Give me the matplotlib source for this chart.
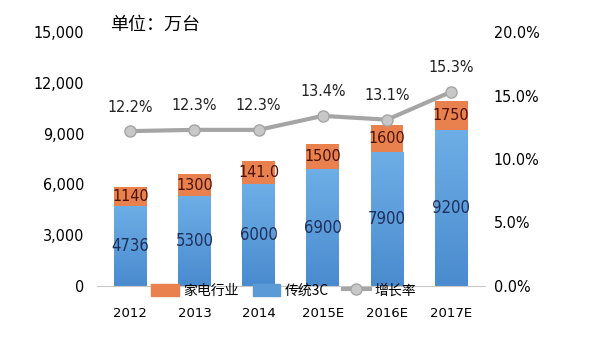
import numpy as np
import matplotlib.pyplot as plt
from matplotlib.lines import Line2D
from matplotlib.patches import Patch
from matplotlib.colors import LinearSegmentedColormap

plt.rcParams['font.family'] = ['DejaVu Sans', 'Noto Sans CJK SC']
plt.rcParams['font.stretch'] = 'condensed'

years = ['2012', '2013', '2014', '2015E', '2016E', '2017E']
trad_3c = [4736, 5300, 6000, 6900, 7900, 9200]
appliance = [1140, 1300, 1410, 1500, 1600, 1750]
growth = [12.2, 12.3, 12.3, 13.4, 13.1, 15.3]
appliance_labels = ['1140', '1300', '141.0', '1500', '1600', '1750']

blue = '#5b9bd5'
orange = '#e8814d'
grey = '#a5a5a5'
cjk = ['Noto Sans CJK SC', 'DejaVu Sans']
blue_grad = LinearSegmentedColormap.from_list('bg', ['#4a8bcf', '#6eaee6'])

fig = plt.figure(figsize=(5.91, 3.42), dpi=100)
ax = fig.add_axes([0.164, 0.164, 0.657, 0.742])
x = np.arange(len(years))
w = 0.51

bars = ax.bar(x, trad_3c, w, color=blue, zorder=2)
ax.bar(x, appliance, w, bottom=trad_3c, color=orange, zorder=2)
# vertical gradient on the blue bars
grad = np.linspace(0, 1, 100).reshape(-1, 1)
for b in bars:
    bx, by = b.get_x(), b.get_y()
    im = ax.imshow(grad, cmap=blue_grad, origin='lower', aspect='auto', zorder=2.1,
                   extent=[bx, bx + b.get_width(), by, by + b.get_height()])
    im.set_clip_path(b)

for i in range(len(years)):
    ax.text(x[i], trad_3c[i] / 2, str(trad_3c[i]), ha='center', va='center',
            fontsize=12, color='#1f2f5a', zorder=3)
    ax.text(x[i], trad_3c[i] + appliance[i] / 2, appliance_labels[i], ha='center',
            va='center', fontsize=11.5, color='#4a1208', zorder=3)

ax.set_xlim(-0.52, 5.53)
ax.set_ylim(0, 15000)
ax.set_yticks([0, 3000, 6000, 9000, 12000, 15000])
ax.set_yticklabels(['0', '3,000', '6,000', '9,000', '12,000', '15,000'])
ax.set_xticks(x)
ax.set_xticklabels(years, fontstretch='normal')
ax.tick_params(axis='x', length=0, pad=15, labelsize=9.5)
ax.tick_params(axis='y', length=0, pad=9, labelsize=11.5)
for s in ['top', 'right', 'left']:
    ax.spines[s].set_visible(False)
ax.spines['bottom'].set_color('#c8c8c8')

ax2 = ax.twinx()
ax2.plot(x, growth, color=grey, lw=3, marker='o', ms=8, mfc='#c8c8c8', mec=grey, zorder=4)
for i in range(len(years)):
    ax2.text(x[i], growth[i] + 1.3, f'{growth[i]:.1f}%', ha='center', va='bottom',
             fontsize=11.5, color='#222222')
ax2.set_ylim(0, 20)
ax2.set_yticks([0, 5, 10, 15, 20])
ax2.set_yticklabels(['0.0%', '5.0%', '10.0%', '15.0%', '20.0%'])
ax2.tick_params(axis='y', length=0, pad=6, labelsize=11.5)
for s in ['top', 'right', 'left', 'bottom']:
    ax2.spines[s].set_visible(False)

handles = [Patch(color=orange), Patch(color=blue),
           Line2D([0], [0], color=grey, lw=3, marker='o', ms=8, mfc='#c8c8c8', mec=grey)]
fig.legend(handles, ['家电行业', '传统3C', '增长率'], loc='center', ncol=3,
           bbox_to_anchor=(0.48, 0.15), frameon=False,
           handlelength=2.0, handleheight=1.0, columnspacing=1.0, handletextpad=0.3,
           prop={'family': cjk, 'size': 10})

fig.text(0.186, 0.928, '单位：万台', fontsize=13, family=cjk, va='center')

fig.savefig('out.png', dpi=100)
